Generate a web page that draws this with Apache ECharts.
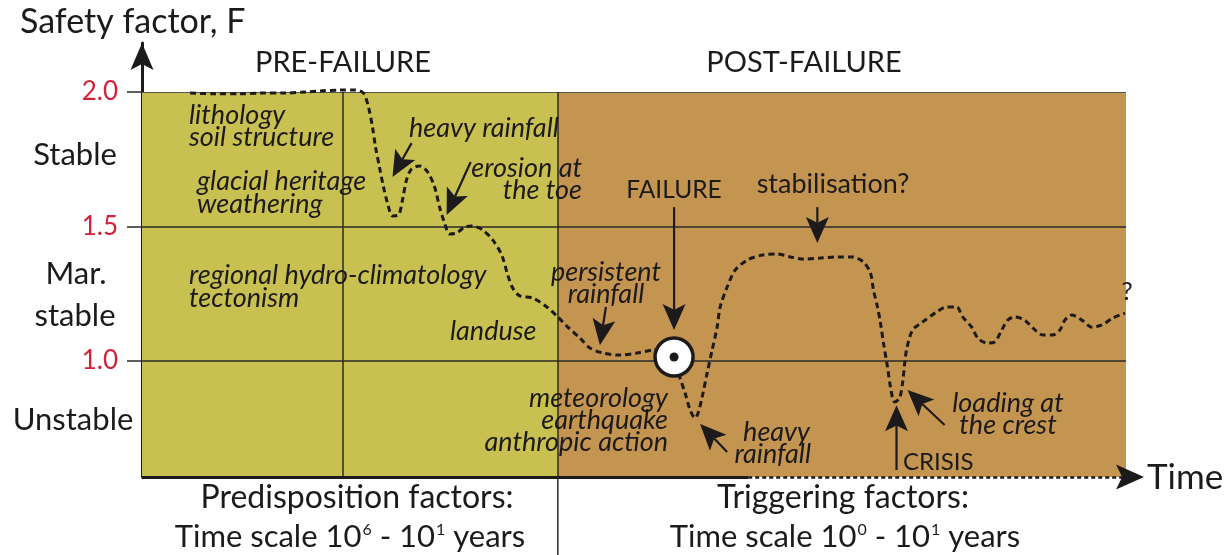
<!DOCTYPE html>
<html><head><meta charset="utf-8">
<script src="https://cdn.jsdelivr.net/npm/echarts@6/dist/echarts.min.js"></script>
<style>html,body{margin:0;padding:0;background:#fff}#c{width:1231px;height:555px}</style>
</head><body><div id="c"></div>
<script>
// ---- Data: time (arbitrary units 0-100) and safety factor F ----
const curveTime = [4.8,7.3,9.8,11.8,14.3,16.3,17.8,19.8,21.3,22.1,
  22.6,23.0,23.3,23.7,24.1,24.5,25.0,25.6,26.0,26.4,
  26.9,27.7,28.5,29.2,29.7,30.2,30.7,31.4,32.2,32.9,
  34.0,35.0,35.9,36.5,37.0,37.7,39.0,40.4,41.5,42.5,
  43.7,44.7,46.0,47.7,49.4,51.0,52.2,53.1,53.7,54.2,
  54.7,55.2,55.5,55.9,56.4,56.9,57.4,57.7,58.4,59.2,
  60.4,61.9,63.4,64.7,66.0,67.7,69.4,70.9,72.0,72.7,
  73.0,73.4,73.7,74.0,74.4,74.7,75.1,75.6,75.9,76.1,
  76.3,76.9,77.9,79.3,80.3,81.3,81.9,82.8,83.4,84.3,
  85.1,85.8,86.4,87.1,88.1,88.9,89.9,90.9,91.6,92.1,
  92.8,93.8,94.8,95.8,96.9,98.1];
const curveF = [1.996,1.993,1.993,1.996,1.996,2.000,2.004,2.007,2.007,1.996,
  1.944,1.870,1.796,1.721,1.647,1.587,1.539,1.543,1.599,1.673,
  1.714,1.725,1.703,1.647,1.572,1.513,1.472,1.476,1.498,1.502,
  1.487,1.450,1.394,1.320,1.271,1.242,1.234,1.201,1.164,1.126,
  1.086,1.048,1.030,1.022,1.030,1.041,1.045,1.015,0.937,0.881,
  0.818,0.788,0.807,0.866,0.955,1.041,1.126,1.201,1.275,1.338,
  1.375,1.394,1.398,1.387,1.379,1.383,1.387,1.387,1.368,1.327,
  1.264,1.201,1.141,1.067,0.978,0.903,0.848,0.862,0.918,0.985,
  1.041,1.115,1.145,1.182,1.201,1.201,1.164,1.126,1.086,1.067,
  1.071,1.115,1.152,1.164,1.152,1.123,1.097,1.097,1.115,1.152,
  1.171,1.152,1.126,1.134,1.160,1.178];
const yTicks = [1.0, 1.5, 2.0];
const stabilityClasses = ['Stable', 'Mar.', 'stable', 'Unstable'];
const phaseNames = ['PRE-FAILURE', 'POST-FAILURE'];
const phaseBounds = [0, 41.5, 98.2];   // time: pre-failure | post-failure
const subDivider = 20.0;               // extra vertical line in pre-failure
const failurePoint = [53.1, 1.015];
const axisF = { min: 0.569, max: 2.182, floor: 0.279 };
const timeAxis = { min: 0, max: 100, solidEnd: 60.5, dottedEnd: 98.4 };
// arrows: [tailTime, tailF, tipTime, tipF]
const arrows = [
  [26.9, 1.810, 25.0, 1.684],
  [32.8, 1.740, 30.4, 1.543],
  [46.3, 1.201, 45.7, 1.059],
  [53.1, 1.572, 53.1, 1.115],
  [67.4, 1.572, 67.4, 1.439],
  [58.4, 0.662, 55.7, 0.766],
  [75.3, 0.595, 75.3, 0.836],
  [80.1, 0.762, 76.4, 0.892]
];

// ---- styles ----
const FONT = 'Lato, "Noto Sans", sans-serif';
const INK = '#1c1a1a';
const YELLOW = '#c9c052';
const BROWN = '#c49451';
const RED = '#d2213a';

const chart = echarts.init(document.getElementById('c'), null, {renderer: 'canvas'});

function seg(a, b, style) {
  return [{coord: a, lineStyle: style}, {coord: b}];
}

const gridLines = [
  seg([0, 2.0], [phaseBounds[2], 2.0], {color: '#555', width: 1.2, type: 'solid'}),
  seg([0, 1.5], [phaseBounds[2], 1.5], {color: '#2a2a2a', width: 1.5, type: 'solid'}),
  seg([0, 1.0], [phaseBounds[2], 1.0], {color: '#2a2a2a', width: 1.5, type: 'solid'}),
  seg([subDivider, 2.0], [subDivider, axisF.min], {color: '#2a2a2a', width: 1.5, type: 'solid'}),
  seg([phaseBounds[1], 2.0], [phaseBounds[1], axisF.min], {color: '#2a2a2a', width: 1.5, type: 'solid'}),
  seg([timeAxis.min, axisF.min], [timeAxis.solidEnd, axisF.min], {color: INK, width: 3, type: 'solid'}),
  seg([timeAxis.solidEnd, axisF.min], [timeAxis.dottedEnd, axisF.min], {color: INK, width: 2.6, type: [4, 3]})
];

function txt(x, y, text, o) {
  return {type: 'text', x: x, y: y, silent: true, z: 100,
    style: Object.assign({text: text, fill: INK, fontFamily: FONT, fontSize: 24,
      align: 'left', verticalAlign: 'middle'}, o || {})};
}
function it(o) { return Object.assign({fontStyle: 'italic', fontSize: 27}, o || {}); }

const supRich = {
  n: {fontSize: 31, fontFamily: FONT, fill: INK, color: INK},
  s: {fontSize: 16, fontFamily: FONT, fill: INK, color: INK, verticalAlign: 'top', padding: [0, 0, 0, 1]}
};

const texts = [
  txt(20, 22, 'Safety factor, F', {fontSize: 34}),
  txt(343, 63, phaseNames[0], {fontSize: 29, align: 'center'}),
  txt(804, 63, phaseNames[1], {fontSize: 29, align: 'center'}),
  txt(75, 155, stabilityClasses[0], {fontSize: 31, align: 'center'}),
  txt(76, 274, stabilityClasses[1], {fontSize: 31, align: 'center'}),
  txt(75, 316, stabilityClasses[2], {fontSize: 31, align: 'center'}),
  txt(73, 420, stabilityClasses[3], {fontSize: 31, align: 'center'}),
  txt(189, 115, 'lithology', it()),
  txt(189, 137, 'soil structure', it()),
  txt(197, 181, 'glacial heritage', it()),
  txt(197, 204, 'weathering', it()),
  txt(409, 128, 'heavy rainfall', it()),
  txt(582, 168, 'erosion at', it({align: 'right'})),
  txt(582, 190, 'the toe', it({align: 'right'})),
  txt(189, 275, 'regional hydro-climatology', it()),
  txt(189, 298, 'tectonism', it()),
  txt(450, 331, 'landuse', it()),
  txt(606, 272, 'persistent', it({align: 'center'})),
  txt(606, 294, 'rainfall', it({align: 'center'})),
  txt(668, 398, 'meteorology', it({align: 'right'})),
  txt(668, 420, 'earthquake', it({align: 'right'})),
  txt(668, 442, 'anthropic action', it({align: 'right'})),
  txt(810, 432, 'heavy', it({align: 'right'})),
  txt(811, 454, 'rainfall', it({align: 'right'})),
  txt(1008, 403, 'loading at', it({align: 'center'})),
  txt(1008, 425, 'the crest', it({align: 'center'})),
  txt(674, 190, 'FAILURE', {fontSize: 24.5, align: 'center'}),
  txt(833, 184, 'stabilisation?', {fontSize: 27, align: 'center'}),
  txt(903, 462, 'CRISIS', {}),
  txt(1127, 292, '?', {fontSize: 25, align: 'center'}),
  txt(1147, 478, 'Time', {fontSize: 35}),
  txt(357, 498, 'Predisposition factors:', {fontSize: 32, align: 'center'}),
  txt(350, 537, '{n|Time scale 10}{s|6}{n| - 10}{s|1}{n| years}', {align: 'center', rich: supRich}),
  txt(843, 498, 'Triggering factors:', {fontSize: 32, align: 'center'}),
  txt(845, 537, '{n|Time scale 10}{s|0}{n| - 10}{s|1}{n| years}', {align: 'center', rich: supRich})
];

chart.setOption({
  animation: false,
  backgroundColor: '#ffffff',
  grid: {left: 142, right: 87, top: 43, bottom: 78},
  xAxis: {type: 'value', min: timeAxis.min, max: timeAxis.max, show: false},
  yAxis: {
    type: 'value', min: axisF.min, max: axisF.max,
    splitLine: {show: false},
    axisLine: {show: true, onZero: false, symbol: ['none', 'none'],
      lineStyle: {color: INK, width: 3}},
    axisTick: {show: true, customValues: yTicks, length: 15, lineStyle: {color: '#2a2a2a', width: 1.5}},
    axisLabel: {customValues: yTicks, formatter: v => v.toFixed(1), color: RED,
      fontSize: 26, fontFamily: FONT, margin: 24}
  },
  series: [
    {
      type: 'line', name: 'background', data: [], silent: true,
      markArea: {
        silent: true, z: 1,
        data: [
          [{xAxis: phaseBounds[0], yAxis: axisF.min, itemStyle: {color: YELLOW}}, {xAxis: phaseBounds[1], yAxis: 2.0}],
          [{xAxis: phaseBounds[1], yAxis: axisF.min, itemStyle: {color: BROWN}}, {xAxis: phaseBounds[2], yAxis: 2.0}]
        ]
      },
      markLine: {
        silent: true, z: 2, symbol: ['none', 'none'], label: {show: false},
        emphasis: {disabled: true},
        data: gridLines
      }
    },
    {
      type: 'line', name: 'Safety factor', z: 3,
      data: curveTime.map((t, i) => [t, curveF[i]]),
      smooth: 0.3, showSymbol: false, symbol: 'none',
      lineStyle: {color: INK, width: 3, type: [6, 4]},
      markPoint: {
        silent: true, z: 8,
        label: {show: false},
        data: [
          {coord: failurePoint, symbol: 'circle', symbolSize: 38,
            itemStyle: {color: '#ffffff', borderColor: INK, borderWidth: 3.5}},
          {coord: failurePoint, symbol: 'circle', symbolSize: 9, itemStyle: {color: INK, borderWidth: 0}}
        ]
      }
    }
  ]
});

// ---- arrows and the divider's extension, placed through the chart's own scales ----
function px(p) { return chart.convertToPixel({gridIndex: 0}, p); }
function arrowShapes(tail, tip, len, halfW, lw, drawShaft) {
  const p0 = px(tail), p1 = px(tip);
  const dx = p1[0] - p0[0], dy = p1[1] - p0[1];
  const L = Math.hypot(dx, dy), ux = dx / L, uy = dy / L, nx = -uy, ny = ux;
  const base = [p1[0] - ux * len, p1[1] - uy * len];
  const notch = [p1[0] - ux * len * 0.78, p1[1] - uy * len * 0.78];
  const out = [];
  if (drawShaft) {
    out.push({type: 'line', silent: true, z: 90,
      shape: {x1: p0[0], y1: p0[1], x2: notch[0], y2: notch[1]},
      style: {stroke: INK, lineWidth: lw}});
  }
  out.push({type: 'polygon', silent: true, z: 91,
    shape: {points: [p1, [base[0] + nx * halfW, base[1] + ny * halfW], notch,
      [base[0] - nx * halfW, base[1] - ny * halfW]]},
    style: {fill: INK}});
  return out;
}
let shapes = [];
arrows.forEach(a => { shapes = shapes.concat(arrowShapes([a[0], a[1]], [a[2], a[3]], 26, 11.5, 2.2, true)); });
// axis arrowheads
shapes = shapes.concat(arrowShapes([timeAxis.min, axisF.min], [timeAxis.min, axisF.max], 27, 11.5, 3, false));
shapes = shapes.concat(arrowShapes([timeAxis.solidEnd, axisF.min], [timeAxis.max, axisF.min], 28, 12.5, 3, false));
// divider extends below the time axis, between the two captions
const dTop = px([phaseBounds[1], axisF.min]);
shapes.push({type: 'line', silent: true, z: 5,
  shape: {x1: dTop[0], y1: dTop[1], x2: dTop[0], y2: 555},
  style: {stroke: '#2a2a2a', lineWidth: 1.5}});

chart.setOption({graphic: texts.concat(shapes)});
</script>
</body></html>
